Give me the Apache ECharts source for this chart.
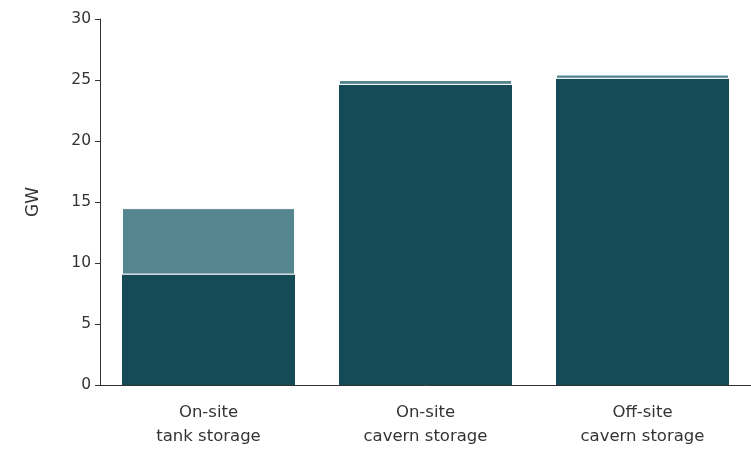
<!DOCTYPE html>
<html><head><meta charset="utf-8">
<script src="https://cdn.jsdelivr.net/npm/echarts@6/dist/echarts.min.js"></script>
<style>html,body{margin:0;padding:0;background:#fff}#c{width:751px;height:449px}</style>
</head><body><div id="c"></div>
<script>
const categories = ['On-site\ntank storage', 'On-site\ncavern storage', 'Off-site\ncavern storage'];
const baseValues = [9.05, 24.6, 25.1];
const topValues = [5.45, 0.4, 0.35];
const yTicks = [0, 5, 10, 15, 20, 25, 30];

const chart = echarts.init(document.getElementById('c'));
chart.setOption({
  animation: false,
  textStyle: { fontFamily: 'DejaVu Sans' },
  grid: { left: 100, right: -4, top: 19, bottom: 61 },
  xAxis: {
    type: 'category', data: categories,
    axisLine: { lineStyle: { color: '#333', width: 1 } },
    axisTick: { show: false },
    axisLabel: { color: '#333', fontSize: 16.5, lineHeight: 24, margin: 16, fontFamily: 'DejaVu Sans' }
  },
  yAxis: {
    type: 'value', min: yTicks[0], max: yTicks[yTicks.length - 1], interval: 5,
    name: 'GW', nameLocation: 'middle', nameGap: 58, nameRotate: 90,
    nameTextStyle: { color: '#333', fontSize: 17, fontFamily: 'DejaVu Sans' },
    axisLine: { show: true, lineStyle: { color: '#333', width: 1 } },
    axisTick: { show: true, length: 5, lineStyle: { color: '#333' } },
    axisLabel: { color: '#333', fontSize: 15.5, margin: 9 },
    splitLine: { show: false }
  },
  series: [
    { type: 'bar', stack: 's', data: baseValues, barWidth: 173,
      itemStyle: { color: '#154b57' } },
    { type: 'bar', stack: 's', data: topValues, barWidth: 173,
      itemStyle: { color: '#55868f', borderColor: '#ffffff', borderWidth: 1 } }
  ]
});
</script></body></html>
